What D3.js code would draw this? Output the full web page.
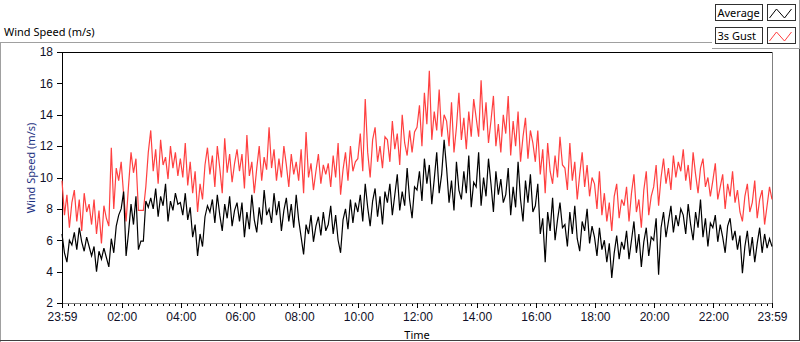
<!DOCTYPE html>
<html>
<head>
<meta charset="utf-8">
<script src="https://cdn.jsdelivr.net/npm/d3@7"></script>
<style>
  body { margin: 0; background: #fff; }
  svg { display: block; font-family: "Noto Sans", "DejaVu Sans", sans-serif; }
</style>
</head>
<body>
<div id="chart-area"></div>
<script>
// wind speed in m/s, one sample every 5 minutes, 23:59 -> 23:59 (one row per hour)
const averageSpeed = [
  6.4, 5.2, 4.6, 6.0, 5.7, 6.5, 5.4, 6.8, 5.9, 5.3, 6.2, 5.6,
  5.0, 5.6, 4.0, 5.3, 4.8, 5.5, 4.9, 4.3, 6.1, 5.2, 6.9, 7.6,
  8.0, 9.1, 5.0, 6.5, 8.3, 7.0, 8.8, 5.4, 5.95, 5.95, 8.5, 8.1,
  8.7, 8.0, 9.3, 7.5, 8.8, 8.2, 9.6, 7.2, 8.5, 7.9, 9.0, 8.3,
  8.4, 7.6, 9.0, 7.3, 8.1, 6.2, 7.0, 5.0, 6.4, 5.6, 7.5, 8.2,
  7.8, 8.6, 7.1, 8.9, 7.6, 6.6, 8.3, 7.4, 8.8, 6.9, 7.9, 8.4,
  7.2, 8.4, 6.2, 7.8, 6.7, 8.9, 7.3, 6.5, 8.1, 7.0, 9.2, 7.6,
  8.0, 7.1, 9.0, 7.6, 8.5, 6.6, 7.9, 8.7, 7.2, 8.3, 6.8, 8.9,
  7.3, 6.2, 5.1, 7.0, 6.4, 7.6, 5.9, 6.9, 7.5, 6.3, 7.8, 6.6,
  7.0, 8.2, 6.4, 7.6, 6.0, 5.2, 7.3, 8.0, 6.7, 8.6, 7.1, 8.4,
  7.8, 8.9, 7.2, 9.6, 8.1, 6.9, 8.5, 9.3, 7.5, 8.8, 7.0, 9.1,
  8.4, 9.6, 7.6, 8.9, 10.2, 7.9, 9.1, 8.2, 10.6, 8.6, 7.4, 9.4,
  9.2, 10.4, 8.5, 11.2, 9.6, 10.8, 8.3, 9.9, 11.6, 9.0, 10.2, 12.4,
  10.6, 8.4, 9.8, 7.9, 11.0, 9.2, 8.6, 10.4, 9.0, 11.4, 8.1, 9.7,
  9.4, 11.6, 8.2, 10.0, 8.8, 11.2, 9.6, 7.8, 10.4, 8.9, 9.9, 8.4,
  8.9, 10.6, 7.6, 9.4, 8.1, 11.0, 8.6, 7.2, 9.8, 8.4, 10.2, 7.8,
  8.2, 9.6, 6.4, 7.4, 4.6, 7.8, 6.6, 8.7, 6.0, 7.3, 8.4, 6.8,
  7.0, 5.6, 7.8, 6.4, 8.2, 6.1, 5.3, 7.2, 6.6, 8.0, 5.8, 6.9,
  6.2, 5.0, 6.8, 5.4, 6.0, 4.6, 5.8, 3.6, 5.2, 6.3, 4.8, 5.9,
  5.4, 6.6, 4.8, 6.0, 7.2, 5.2, 6.4, 4.3, 5.9, 6.8, 5.0, 6.2,
  6.0, 7.4, 3.8, 6.8, 7.8, 6.2, 7.2, 8.2, 6.5, 7.6, 6.9, 8.0,
  7.6, 6.4, 8.3, 7.0, 6.0, 7.8, 6.8, 8.6, 6.2, 7.4, 5.6, 7.1,
  6.8, 7.6, 5.9, 7.0, 6.2, 5.2, 6.9, 7.4, 6.0, 6.6, 5.4, 6.3,
  3.9, 5.6, 6.6, 5.0, 6.2, 4.6, 5.8, 6.8, 5.2, 6.4, 5.5, 6.1,
  5.6
];

const gustSpeed = [
  9.8, 7.6, 8.9, 6.8, 8.4, 9.2, 7.2, 8.6, 6.6, 9.0, 7.8, 8.3,
  7.0, 8.6, 6.4, 7.9, 5.8, 8.2, 7.4, 6.9, 11.9, 8.0, 10.6, 9.8,
  11.0, 8.9, 7.2, 9.5, 11.6, 10.3, 11.2, 7.9, 7.9, 7.9, 9.4, 11.6,
  13.0, 10.4, 11.8, 9.6, 12.4, 10.8, 11.3, 9.9, 12.0, 10.6, 11.6, 10.1,
  11.2, 10.0, 12.2, 9.5, 11.0, 9.0, 10.4, 7.8, 9.6, 8.6, 10.8, 11.9,
  10.2, 11.4, 9.4, 12.0, 10.6, 9.0, 12.5, 10.3, 11.5, 9.7, 10.9, 11.8,
  10.4, 11.5, 9.3, 12.7, 10.1, 11.0, 9.0, 10.6, 12.0, 9.8, 11.3, 10.5,
  13.2, 10.6, 11.8, 9.8, 11.2, 10.0, 12.0, 10.8, 9.4, 11.5, 10.2, 11.0,
  9.8, 11.8, 9.0, 12.9, 10.0, 10.9, 9.2, 10.4, 11.5, 9.6, 10.8, 10.2,
  10.9, 9.4, 11.4, 10.0, 12.2, 8.9, 10.5, 11.6, 9.8, 12.0, 10.4, 11.0,
  11.2, 12.8, 10.4, 15.0, 11.6, 10.0, 12.4, 13.2, 11.0, 12.0, 10.6, 12.6,
  12.4, 11.0, 13.6, 11.8, 12.8, 10.8, 14.0, 12.2, 11.4, 13.0, 11.6, 12.9,
  13.2, 14.6, 12.0, 15.4, 13.4, 16.8, 12.4, 14.2, 13.0, 15.6, 12.6, 14.0,
  13.6, 12.0, 14.8, 11.6, 13.2, 15.4, 12.4, 13.8, 11.8, 14.2, 12.6, 15.0,
  13.8, 12.6, 16.2, 13.0, 14.8, 12.2, 13.6, 15.2, 12.0, 13.4, 11.6, 14.0,
  12.8, 15.2, 11.4, 13.6, 12.0, 14.2, 11.0, 12.6, 13.8, 11.2, 13.0, 12.2,
  11.0, 13.0, 10.2, 11.8, 9.0, 12.2, 10.4, 9.6, 11.4, 10.0, 12.6, 10.8,
  10.6, 9.2, 12.2, 9.8, 11.0, 8.6, 10.2, 11.6, 9.4, 10.8, 8.8, 10.0,
  9.6, 8.0, 10.4, 7.6, 9.0, 7.2, 8.4, 6.6, 8.8, 9.6, 7.4, 8.6,
  8.2, 9.4, 7.2, 9.0, 10.2, 7.8, 8.6, 6.8, 9.2, 10.4, 7.6, 8.8,
  9.4, 10.8, 8.2, 10.0, 11.2, 9.6, 10.6, 9.2, 11.4, 10.0, 11.0, 10.4,
  11.8, 9.8, 10.8, 9.2, 11.6, 10.2, 9.0, 10.6, 11.2, 9.4, 10.0, 8.8,
  9.8, 10.9, 8.6, 9.4, 10.2, 8.0, 9.6, 8.8, 10.4, 8.4, 9.2, 7.8,
  7.2, 8.8, 9.6, 7.8, 8.4, 9.8, 7.4, 8.6, 9.2, 7.0, 8.2, 9.4,
  8.6
];

const sampleMinutes = 5
const timeLabels = ["23:59", "02:00", "04:00", "06:00", "08:00", "10:00", "12:00",
                    "14:00", "16:00", "18:00", "20:00", "22:00", "23:59"]
const speedTicks = [2, 4, 6, 8, 10, 12, 14, 16, 18]
const seriesNames = ["Average", "3s Gust"]
const seriesColors = ["#000000", "#ff4040"]

const WIDTH = 800, HEIGHT = 342
const PLOT = { LEFT: 62, RIGHT: 772, TOP: 52, BOTTOM: 303 }
const FONT = 11

const svg = d3.select("#chart-area").append("svg")
  .attr("width", WIDTH)
  .attr("height", HEIGHT)

// outer panel frame
const frame = svg.append("g").attr("fill", "none").attr("shape-rendering", "crispEdges")
frame.append("path").attr("stroke", "#a0a0a0").attr("d", "M0.5,342V42.5H712")
frame.append("path").attr("stroke", "#404040").attr("d", "M0,340.5H799.5V48")
frame.append("path").attr("stroke", "#a0a0a0").attr("d", "M712,48.5H799.5V0")

svg.append("text")
  .attr("x", 4).attr("y", 36)
  .attr("font-size", FONT)
  .attr("fill", "#000")
  .text("Wind Speed (m/s)")

// times: first label is the start day, the rest belong to the next day
const parseHM = d3.timeParse("%H:%M")
const start = new Date(2000, 0, 1, 23, 59)
const end = new Date(2000, 0, 2, 23, 59)
const majorTimes = timeLabels.map((s, i) => {
  if (i === 0) return start
  if (i === timeLabels.length - 1) return end
  const t = parseHM(s)
  return new Date(2000, 0, 2, t.getHours(), t.getMinutes())
})

const xScale = d3.scaleTime().domain([start, end]).range([PLOT.LEFT, PLOT.RIGHT])
const yScale = d3.scaleLinear().domain([2, 18]).range([PLOT.BOTTOM, PLOT.TOP])

// plot border (top dark, right light)
svg.append("path").attr("fill", "none").attr("shape-rendering", "crispEdges")
  .attr("stroke", "#000").attr("d", `M${PLOT.LEFT},${PLOT.TOP + 0.5}H${PLOT.RIGHT}`)
svg.append("path").attr("fill", "none").attr("shape-rendering", "crispEdges")
  .attr("stroke", "#808080").attr("d", `M${PLOT.RIGHT + 0.5},${PLOT.TOP}V${PLOT.BOTTOM}`)

// x axis, minor ticks every 12 minutes
const xMinor = svg.append("g")
  .attr("transform", `translate(0,${PLOT.BOTTOM})`)
  .call(d3.axisBottom(xScale).tickValues(d3.timeMinute.every(12).range(start, end)).tickSize(3).tickFormat(""))
xMinor.select(".domain").remove()

const xAxis = svg.append("g")
  .attr("transform", `translate(0,${PLOT.BOTTOM})`)
  .call(d3.axisBottom(xScale).tickValues(majorTimes).tickSize(5).tickSizeOuter(0).tickPadding(4)
        .tickFormat((d, i) => timeLabels[i]))
xAxis.select(".domain").attr("stroke", "#808080")

const yAxis = svg.append("g")
  .attr("transform", `translate(${PLOT.LEFT},0)`)
  .call(d3.axisLeft(yScale).tickValues(speedTicks).tickSize(5).tickSizeOuter(0).tickPadding(4))

svg.selectAll(".tick text").attr("font-size", FONT + 1).attr("font-family", null).attr("fill", "#101028")
svg.selectAll(".tick line, .domain").attr("shape-rendering", "crispEdges")

svg.append("text")
  .attr("x", (PLOT.LEFT + PLOT.RIGHT) / 2).attr("y", 339)
  .attr("text-anchor", "middle")
  .attr("font-size", FONT)
  .text("Time")

svg.append("text")
  .attr("transform", `translate(35,168) rotate(-90)`)
  .attr("text-anchor", "middle")
  .attr("font-size", FONT)
  .attr("fill", "#1e3282")
  .text("Wind Speed (m/s)")

// series
const lineGenerator = d3.line()
  .x((d, i) => xScale(d3.timeMinute.offset(start, i * sampleMinutes)))
  .y(d => yScale(d))

const series = [gustSpeed, averageSpeed]
svg.append("g").selectAll("path")
  .data(series)
  .enter().append("path")
  .attr("fill", "none")
  .attr("stroke", (d, i) => i === 0 ? seriesColors[1] : seriesColors[0])
  .attr("stroke-width", 1.2)
  .attr("d", d => lineGenerator(d))

// legend
const legend = svg.append("g").attr("shape-rendering", "crispEdges")
seriesNames.forEach((name, i) => {
  const top = 4 + i * 23
  legend.append("rect").attr("x", 715.5).attr("y", top + 0.5).attr("width", 47).attr("height", 16)
    .attr("fill", "#fff").attr("stroke", "#303030")
  legend.append("text").attr("x", 717.5).attr("y", top + 12.5).attr("font-size", FONT).text(name)
  legend.append("rect").attr("x", 767.5).attr("y", top + 0.5).attr("width", 28).attr("height", 16)
    .attr("fill", "#fff").attr("stroke", "#303030")
  const sw = [[2, 14], [9, 5], [17, 14], [24, 5]]
  legend.append("path")
    .attr("fill", "none").attr("shape-rendering", "auto")
    .attr("stroke", seriesColors[i])
    .attr("d", d3.line()(sw.map(p => [767.5 + p[0], top + p[1]])))
})
</script>
</body>
</html>
